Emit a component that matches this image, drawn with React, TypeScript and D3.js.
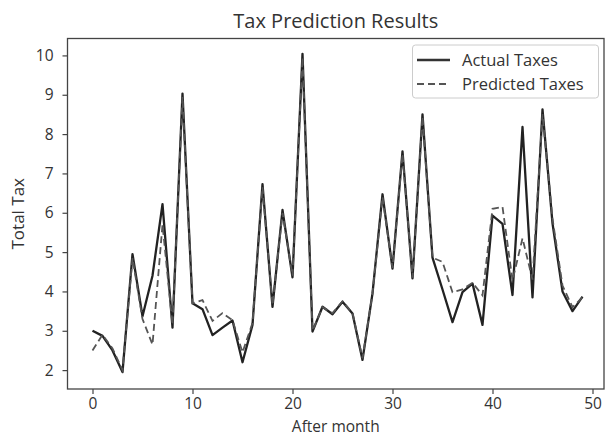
import React, { useEffect, useRef } from 'react';
import * as d3 from 'd3';

// values, one per month (0..49)
const actualTaxes = [
  3.0, 2.87, 2.5, 1.95, 4.95, 3.37, 4.4, 6.22, 3.08, 9.03,
  3.7, 3.55, 2.89, 3.08, 3.26, 2.2, 3.15, 6.73, 3.61, 6.07,
  4.36, 10.04, 2.98, 3.61, 3.42, 3.74, 3.44, 2.26, 3.95, 6.47,
  4.58, 7.56, 4.33, 8.5, 4.86, 4.05, 3.22, 3.98, 4.2, 3.15,
  5.93, 5.72, 3.91, 8.18, 3.85, 8.63, 5.73, 4.0, 3.5, 3.87,
];
const predictedTaxes = [
  2.5, 2.9, 2.55, 2.0, 4.85, 3.3, 2.65, 5.7, 3.15, 8.95,
  3.7, 3.78, 3.25, 3.45, 3.27, 2.45, 3.2, 6.65, 3.65, 6.0,
  4.4, 9.95, 3.0, 3.6, 3.45, 3.75, 3.45, 2.3, 3.95, 6.4,
  4.6, 7.5, 4.35, 8.45, 4.86, 4.75, 3.98, 4.05, 4.22, 3.9,
  6.1, 6.15, 4.28, 5.35, 4.3, 8.5, 5.85, 4.15, 3.6, 3.85,
];
const xTicks = [0, 10, 20, 30, 40, 50];
const yTicks = [2, 3, 4, 5, 6, 7, 8, 9, 10];
const seriesNames = ['Actual Taxes', 'Predicted Taxes'];

const width = 606;
const height = 437;
const box = { left: 67.5, right: 604, top: 38.5, bottom: 389 };
const font = '"Open Sans", "Noto Sans", sans-serif';

function App() {
  const svgRef = useRef<SVGSVGElement>(null);

  useEffect(() => {
    const svg = d3.select(svgRef.current);
    svg.selectAll('*').remove();

    const x = d3.scaleLinear().domain([-2.5, 51.15]).range([box.left, box.right]);
    const y = d3.scaleLinear().domain([1.52, 10.43]).range([box.bottom, box.top]);

    svg.append('rect').attr('width', width).attr('height', height).attr('fill', 'white');

    // lines
    const line = d3
      .line<number>()
      .x((d, i) => x(i))
      .y((d) => y(d));

    svg
      .append('path')
      .datum(actualTaxes)
      .attr('d', line)
      .attr('fill', 'none')
      .attr('stroke', '#222')
      .attr('stroke-width', 2.3)
      .attr('stroke-linejoin', 'round');

    svg
      .append('path')
      .datum(predictedTaxes)
      .attr('d', line)
      .attr('fill', 'none')
      .attr('stroke', '#555')
      .attr('stroke-width', 1.8)
      .attr('stroke-dasharray', '7,4');

    // axes
    const xAxis = svg
      .append('g')
      .attr('transform', `translate(0,${box.bottom})`)
      .call(d3.axisBottom(x).tickValues(xTicks).tickSize(5).tickPadding(4));
    const yAxis = svg
      .append('g')
      .attr('transform', `translate(${box.left},0)`)
      .call(d3.axisLeft(y).tickValues(yTicks).tickSize(5).tickPadding(9));

    [xAxis, yAxis].forEach((g) => {
      g.select('.domain').remove();
      g.selectAll('line').attr('stroke', '#444').attr('stroke-width', 1.2);
      g.selectAll('text')
        .attr('fill', '#333')
        .attr('font-family', font)
        .attr('font-size', 15.5);
    });

    // frame
    svg
      .append('rect')
      .attr('x', box.left)
      .attr('y', box.top)
      .attr('width', box.right - box.left)
      .attr('height', box.bottom - box.top)
      .attr('fill', 'none')
      .attr('stroke', '#444')
      .attr('stroke-width', 1.3);

    // title and axis labels
    const cx = (box.left + box.right) / 2;
    svg
      .append('text')
      .attr('x', cx)
      .attr('y', 28)
      .attr('text-anchor', 'middle')
      .attr('font-family', font)
      .attr('font-size', 20)
      .attr('fill', '#333')
      .text('Tax Prediction Results');
    svg
      .append('text')
      .attr('x', cx)
      .attr('y', 432)
      .attr('text-anchor', 'middle')
      .attr('font-family', font)
      .attr('font-size', 15.5)
      .attr('fill', '#333')
      .text('After month');
    svg
      .append('text')
      .attr('transform', `translate(24,${(box.top + box.bottom) / 2}) rotate(-90)`)
      .attr('text-anchor', 'middle')
      .attr('font-family', font)
      .attr('font-size', 17)
      .attr('fill', '#333')
      .text('Total Tax');

    // legend
    const legend = svg.append('g');
    legend
      .append('rect')
      .attr('x', 412.5)
      .attr('y', 45)
      .attr('width', 186)
      .attr('height', 53)
      .attr('rx', 3)
      .attr('fill', 'white')
      .attr('stroke', '#ccc');
    seriesNames.forEach((name, i) => {
      const ly = 60 + i * 24;
      legend
        .append('line')
        .attr('x1', 417)
        .attr('x2', 450)
        .attr('y1', ly)
        .attr('y2', ly)
        .attr('stroke', i === 0 ? '#333' : '#555')
        .attr('stroke-width', i === 0 ? 2.4 : 1.8)
        .attr('stroke-dasharray', i === 0 ? null : '7,4');
      legend
        .append('text')
        .attr('x', 462)
        .attr('y', ly)
        .attr('dy', '0.35em')
        .attr('font-family', font)
        .attr('font-size', 16.5)
        .attr('fill', '#333')
        .text(name);
    });
  }, []);

  return (
    <div style={{ position: 'absolute', left: 0, top: 0 }}>
      <svg ref={svgRef} width={width} height={height} style={{ display: 'block' }} />
    </div>
  );
}

export default App;
